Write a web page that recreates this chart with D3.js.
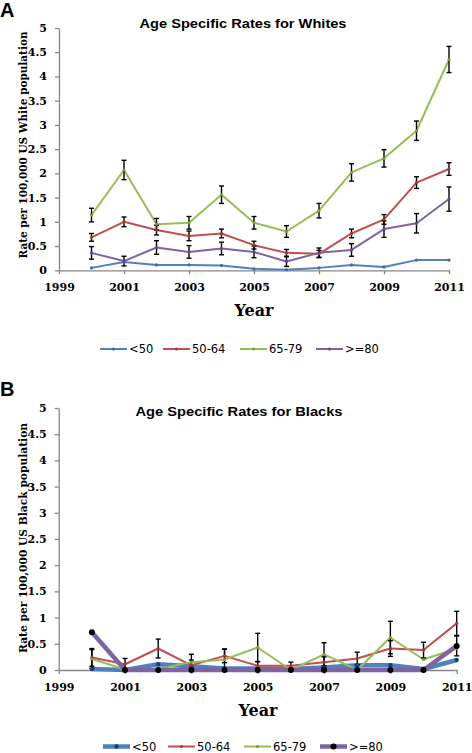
<!DOCTYPE html>
<html><head><meta charset="utf-8">
<script src="https://cdn.jsdelivr.net/npm/d3@7"></script>
<style>
html,body{margin:0;padding:0;background:#fff;}
svg{display:block;}
.tick text{font-family:"DejaVu Serif",serif;font-weight:bold;font-size:11px;fill:#000;}
</style></head>
<body>
<svg id="c" width="472" height="753"></svg>
<script>
// ---------- DATA ----------
const years = [2000,2001,2002,2003,2004,2005,2006,2007,2008,2009,2010,2011];
const xTicks = [1999,2001,2003,2005,2007,2009,2011];
const yTicks = [0,0.5,1,1.5,2,2.5,3,3.5,4,4.5,5];
const seriesNames = ["<50","50-64","65-79",">=80"];
const seriesColors = ["#4F81BD","#C0504D","#9BBB59","#8064A2"];

// Panel A: Whites
const whiteLt50    = [0.05,0.17,0.11,0.11,0.10,0.03,0.01,0.05,0.11,0.07,0.21,0.21];
const whiteLt50Err = [0,0,0,0,0,0,0,0,0,0,0,0];
const white5064    = [0.68,1.00,0.83,0.71,0.76,0.52,0.36,0.34,0.76,1.05,1.81,2.09];
const white5064Err = [0.08,0.10,0.10,0.10,0.09,0.08,0.07,0.07,0.09,0.10,0.12,0.13];
const white6579    = [1.14,2.07,0.95,0.98,1.56,0.98,0.80,1.23,2.02,2.31,2.88,4.35];
const white6579Err = [0.14,0.20,0.12,0.13,0.18,0.13,0.12,0.15,0.18,0.18,0.20,0.27];
const white80      = [0.36,0.19,0.47,0.38,0.45,0.38,0.18,0.36,0.42,0.85,0.97,1.47];
const white80Err   = [0.13,0.10,0.14,0.13,0.13,0.12,0.10,0.10,0.13,0.17,0.20,0.25];

// Panel B: Blacks
const blackLt50    = [0.02,0.00,0.11,0.07,0.03,0.03,0.02,0.05,0.09,0.09,0.02,0.19];
const blackLt50Err = [0,0,0,0,0,0,0,0,0,0,0,0];
const black5064    = [0.24,0.11,0.41,0.09,0.27,0.08,0.08,0.15,0.22,0.41,0.38,0.89];
const black5064Err = [0.17,0.11,0.18,0.10,0.13,0.08,0.07,0.10,0.12,0.15,0.15,0.23];
const black6579    = [0.21,0.01,0.02,0.15,0.20,0.43,0.00,0.30,0.00,0.62,0.20,0.41];
const black6579Err = [0.18,0,0,0.15,0.20,0.27,0,0.22,0,0.31,0,0];
const black80      = [0.72,0.00,0.00,0.00,0.00,0.00,0.00,0.00,0.00,0.00,0.00,0.46];
const black80Err   = [0,0,0,0,0,0,0,0,0,0,0,0.19];

// ---------- DRAW ----------
const svg = d3.select("#c");
const axisColor = "#868686";

const panels = [
  {letter:"A", letterY:17, title:"Age Specific Rates for Whites", titleY:28, titleX:243,
   ytitle:"Rate per 100,000 US White population", ytitleX:27, ytitleY:145, ytitleLen:227,
   xr:[59,449], yr:[270.3,28], yearY:316, yearX:254, legendY:349,
   legendX:[100,163,240,316], thick:[2,2,2,2], markerR:[1.6,1.6,1.6,1.6],
   markerFill:["#3A6AA8","#A03A37","#7E9E40","#654B86"],
   data:[whiteLt50,white5064,white6579,white80], err:[whiteLt50Err,white5064Err,white6579Err,white80Err]},
  {letter:"B", letterY:396, title:"Age Specific Rates for Blacks", titleY:416, titleX:239,
   ytitle:"Rate per 100,000 US Black population", ytitleX:27, ytitleY:538, ytitleLen:230,
   xr:[58.7,456.7], yr:[670,408], yearY:716, yearX:258, legendY:746.5,
   legendX:[103,168,244,320], thick:[4.5,2,2,4.5], markerR:[2.2,1.6,1.6,3],
   markerFill:["#1F3F73","#A03A37","#7E9E40","#000000"],
   data:[blackLt50,black5064,black6579,black80], err:[blackLt50Err,black5064Err,black6579Err,black80Err]}
];

panels.forEach(p => {
  const g = svg.append("g");
  const x = d3.scaleLinear().domain([1999,2011]).range(p.xr);
  const y = d3.scaleLinear().domain([0,5]).range(p.yr);

  g.append("text").attr("x",0).attr("y",p.letterY)
    .style("font-family","Liberation Sans, Arial, sans-serif").style("font-weight","bold")
    .style("font-size","20px").text(p.letter);
  g.append("text").attr("x",p.titleX).attr("y",p.titleY).attr("text-anchor","middle")
    .style("font-family","Liberation Sans, Arial, sans-serif").style("font-weight","bold")
    .style("font-size","13.5px").attr("textLength",207).attr("lengthAdjust","spacingAndGlyphs")
    .text(p.title);

  const ya = g.append("g").attr("transform",`translate(${p.xr[0]},0)`)
    .call(d3.axisLeft(y).tickValues(yTicks).tickSize(4).tickSizeOuter(0).tickPadding(8).tickFormat(d=>String(d)));
  const xa = g.append("g").attr("transform",`translate(0,${p.yr[0]})`)
    .call(d3.axisBottom(x).tickValues(xTicks).tickSize(4).tickSizeOuter(0).tickPadding(9).tickFormat(d3.format("d")));
  [ya,xa].forEach(a=>{
    a.select(".domain").attr("stroke",axisColor).attr("stroke-width",1.3);
    a.selectAll(".tick line").attr("stroke",axisColor).attr("stroke-width",1.3);
  });

  g.append("text").attr("transform",`translate(${p.ytitleX},${p.ytitleY}) rotate(-90)`)
    .attr("text-anchor","middle")
    .style("font-family","DejaVu Serif, serif").style("font-weight","bold").style("font-size","10.5px")
    .attr("textLength",p.ytitleLen).attr("lengthAdjust","spacingAndGlyphs")
    .text(p.ytitle);
  g.append("text").attr("x",p.yearX).attr("y",p.yearY).attr("text-anchor","middle")
    .style("font-family","DejaVu Serif, serif").style("font-weight","bold").style("font-size","17px")
    .attr("textLength",39).attr("lengthAdjust","spacingAndGlyphs")
    .text("Year");

  const line = d3.line().x((d,i)=>x(years[i])).y(d=>y(d));

  p.data.forEach((vals,si)=>{
    g.append("path").datum(vals).attr("d",line).attr("fill","none")
      .attr("stroke",seriesColors[si]).attr("stroke-width",p.thick[si]).attr("stroke-linejoin","round");
  });
  p.data.forEach((vals,si)=>{
    const errs = p.err[si];
    vals.forEach((v,i)=>{
      const e = errs[i];
      if(!e) return;
      const cx = x(years[i]);
      const top = y(v+e), bot = y(Math.max(0,v-e));
      const eg = g.append("g").attr("stroke","#000").attr("stroke-width",1.4);
      eg.append("line").attr("x1",cx).attr("x2",cx).attr("y1",top).attr("y2",bot);
      eg.append("line").attr("x1",cx-2.5).attr("x2",cx+2.5).attr("y1",top).attr("y2",top);
      if(v-e>0) eg.append("line").attr("x1",cx-2.5).attr("x2",cx+2.5).attr("y1",bot).attr("y2",bot);
    });
  });
  p.data.forEach((vals,si)=>{
    g.append("g").selectAll("circle").data(vals).join("circle")
      .attr("cx",(d,i)=>x(years[i])).attr("cy",d=>y(d)).attr("r",p.markerR[si])
      .attr("fill",p.markerFill[si]);
  });

  seriesNames.forEach((nm,si)=>{
    const lx = p.legendX[si];
    g.append("line").attr("x1",lx).attr("x2",lx+27).attr("y1",p.legendY).attr("y2",p.legendY)
      .attr("stroke",seriesColors[si]).attr("stroke-width",p.thick[si]);
    g.append("circle").attr("cx",lx+13.5).attr("cy",p.legendY).attr("r",p.markerR[si]).attr("fill",p.markerFill[si]);
    g.append("text").attr("x",lx+29).attr("y",p.legendY+4)
      .style("font-family","DejaVu Sans, Verdana, sans-serif").style("font-size","11.5px").style("fill","#000")
      .text(nm);
  });
});
</script>
</body></html>
